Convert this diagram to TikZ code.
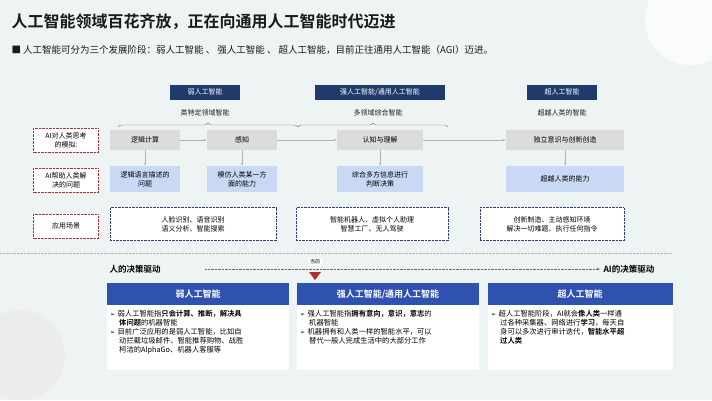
\documentclass[tikz,border=0pt]{standalone}
\usepackage{fontspec}
\setmainfont{Noto Sans CJK SC}
\newfontfamily\cjkb{Noto Sans CJK SC Bold}
\newfontfamily\djv{DejaVu Sans}
\newcommand{\myarr}{{\djv\fontsize{6}{9}\selectfont ➢}\ }
\usetikzlibrary{decorations.pathreplacing,arrows.meta}
\definecolor{bg}{HTML}{EEF4F4}
\definecolor{navy}{HTML}{1F3A6B}
\definecolor{hblue}{HTML}{2F52B0}
\definecolor{gbox}{HTML}{DCDCDC}
\definecolor{lblue}{HTML}{C9D9F5}
\definecolor{dred}{HTML}{B03030}
\definecolor{dblue}{HTML}{2C3E7A}
\definecolor{txt}{HTML}{1A1A1A}
\begin{document}
\begin{tikzpicture}[x=1pt,y=-1pt,
  hdr/.style={fill=navy,text=white,font=\fontsize{7}{8}\selectfont,inner sep=0,minimum height=15},
  sub/.style={font=\fontsize{7}{8}\selectfont,text=txt},
  gb/.style={fill=gbox,font=\fontsize{7}{8}\selectfont,inner sep=0,minimum height=20},
  lb/.style={fill=lblue,font=\fontsize{7}{9}\selectfont,inner sep=0,minimum height=26,align=center},
  rl/.style={draw=dred,densely dotted,fill=white,font=\fontsize{7}{9}\selectfont,inner sep=0,minimum width=65,minimum height=24,align=center},
  db/.style={draw=dblue,densely dotted,fill=white,font=\fontsize{7}{9}\selectfont,inner sep=0,minimum height=33,align=center},
  ar/.style={-{Latex[length=3pt]},draw=gray!60,thin},
  bh/.style={fill=hblue,text=white,font=\cjkb\fontsize{9}{10}\selectfont,inner sep=0,minimum height=22},
  bb/.style={fill=white,inner sep=0,minimum height=65}
]
\fill[bg] (0,0) rectangle (712,400);
\useasboundingbox (0,0) rectangle (712,400);
\fill[white!70!bg] (690,20) circle (45);
\fill[gray!15] (20,355) circle (45);
% title
\node[anchor=west,font=\cjkb\fontsize{16}{18}\selectfont,text=txt] (title) at (8,22) {人工智能领域百花齐放，正在向通用人工智能时代迈进};
\node[anchor=west,font=\fontsize{9.5}{11}\selectfont,text=txt] (intro) at (8,50) {■ 人工智能可分为三个发展阶段：弱人工智能 、 强人工智能 、 超人工智能，目前正往通用人工智能（AGI）迈进。};
% headers
\node[hdr,minimum width=70] (h1) at (205,92) {弱人工智能};
\node[hdr,minimum width=130] (h2) at (380,92) {强人工智能/通用人工智能};
\node[hdr,minimum width=70] (h3) at (562,92) {超人工智能};
\node[sub] (s1) at (205,113) {类特定领域智能};
\node[sub] (s2) at (378,113) {多领域综合智能};
\node[sub] (s3) at (562,113) {超越人类的智能};
\coordinate (bA) at (118,127); \coordinate (bB) at (298,127); \coordinate (bC) at (448,127);
\draw[gray,decorate,decoration={brace,amplitude=4pt}] (bA) -- (bB);
\draw[gray,decorate,decoration={brace,amplitude=4pt}] (bB) -- (bC);
% row labels
\node[rl] (r1) at (66,140) {AI对人类思考\\的模拟:};
\node[rl] (r2) at (66,180) {AI帮助人类解\\决的问题};
\node[rl] (r3) at (66,226) {应用场景};
% row1
\node[gb,minimum width=70] (g1) at (145,140) {逻辑计算};
\node[gb,minimum width=70] (g2) at (242,140) {感知};
\node[gb,minimum width=86] (g3) at (380,140) {认知与理解};
\node[gb,minimum width=118] (g4) at (565,140) {独立意识与创新创造};
\draw[ar] (g1) -- (g2); \draw[ar] (g2) -- (g3); \draw[ar] (g3) -- (g4);
% row2
\node[lb,minimum width=70] (l1) at (145,179) {逻辑语言描述的\\问题};
\node[lb,minimum width=70] (l2) at (242,179) {模仿人类某一方\\面的能力};
\node[lb,minimum width=86] (l3) at (380,179) {综合多方信息进行\\判断决策};
\node[lb,minimum width=118] (l4) at (565,179) {超越人类的能力};
\draw[ar] (g1) -- (l1); \draw[ar] (g2) -- (l2); \draw[ar] (g3) -- (l3); \draw[ar] (g4) -- (l4);
% row3
\node[db,minimum width=166] (d1) at (193,224) {人脸识别、语音识别\\语义分析、智能搜索};
\node[db,minimum width=152] (d2) at (372,224) {智能机器人、虚拟个人助理\\智慧工厂、无人驾驶};
\node[db,minimum width=144] (d3) at (552,224) {创新制造、主动感知环境\\解决一切难题、执行任何指令};
% separator
\coordinate (sL) at (0,253); \coordinate (sR) at (672,253);
\draw[gray!60,densely dotted] (sL) -- (sR);
% drive
\node[anchor=west,font=\cjkb\fontsize{8.5}{10}\selectfont] (p1) at (106,269) {人的决策驱动};
\node[anchor=west,font=\cjkb\fontsize{8.5}{10}\selectfont] (p2) at (600,269) {AI的决策驱动};
\draw[densely dotted,-{Latex[length=3pt]},gray!80!black] (205,269) -- (p2.west);
\node[fill=white,font=\fontsize{5}{6}\selectfont,inner sep=1.5pt] (cur) at (315,262) {当前};
\fill[dred] (309,272) -- (321,272) -- (315,280) -- cycle;
% bottom boxes
\node[bb,minimum width=182,anchor=north] (b1) at (198,305) {};
\node[bb,minimum width=182,anchor=north] (b2) at (388,305) {};
\node[bb,minimum width=185,anchor=north] (b3) at (580,305) {};
\node[bh,minimum width=182] (t1) at (198,294) {弱人工智能};
\node[bh,minimum width=182] (t2) at (388,294) {强人工智能/通用人工智能};
\node[bh,minimum width=185] (t3) at (580,294) {超人工智能};
\tikzset{bt/.style={anchor=north west,font=\fontsize{7.3}{9}\selectfont,text width=172,align=left,inner sep=0}}
\node[bt] (x1) at (110,310) {\myarr 弱人工智能指{\cjkb 只会计算、推断，解决具}\\\hspace*{9pt}{\cjkb 体问题}的机器智能\\\myarr 目前广泛应用的是弱人工智能，比如自\\\hspace*{9pt}动拦截垃圾邮件、智能推荐购物、战胜\\\hspace*{9pt}柯洁的AlphaGo、机器人客服等};
\node[bt] (x2) at (300,310) {\myarr 强人工智能指{\cjkb 拥有意向，意识，意志}的\\\hspace*{9pt}机器智能\\\myarr 机器拥有和人类一样的智能水平，可以\\\hspace*{9pt}替代一般人完成生活中的大部分工作};
\node[bt] (x3) at (491,310) {\myarr 超人工智能阶段，AI就会{\cjkb 像人类}一样通\\\hspace*{9pt}过各种采集器、网络进行{\cjkb 学习}，每天自\\\hspace*{9pt}身可以多次进行审计迭代，{\cjkb 智能水平超}\\\hspace*{9pt}{\cjkb 过人类}};
\end{tikzpicture}
\end{document}
